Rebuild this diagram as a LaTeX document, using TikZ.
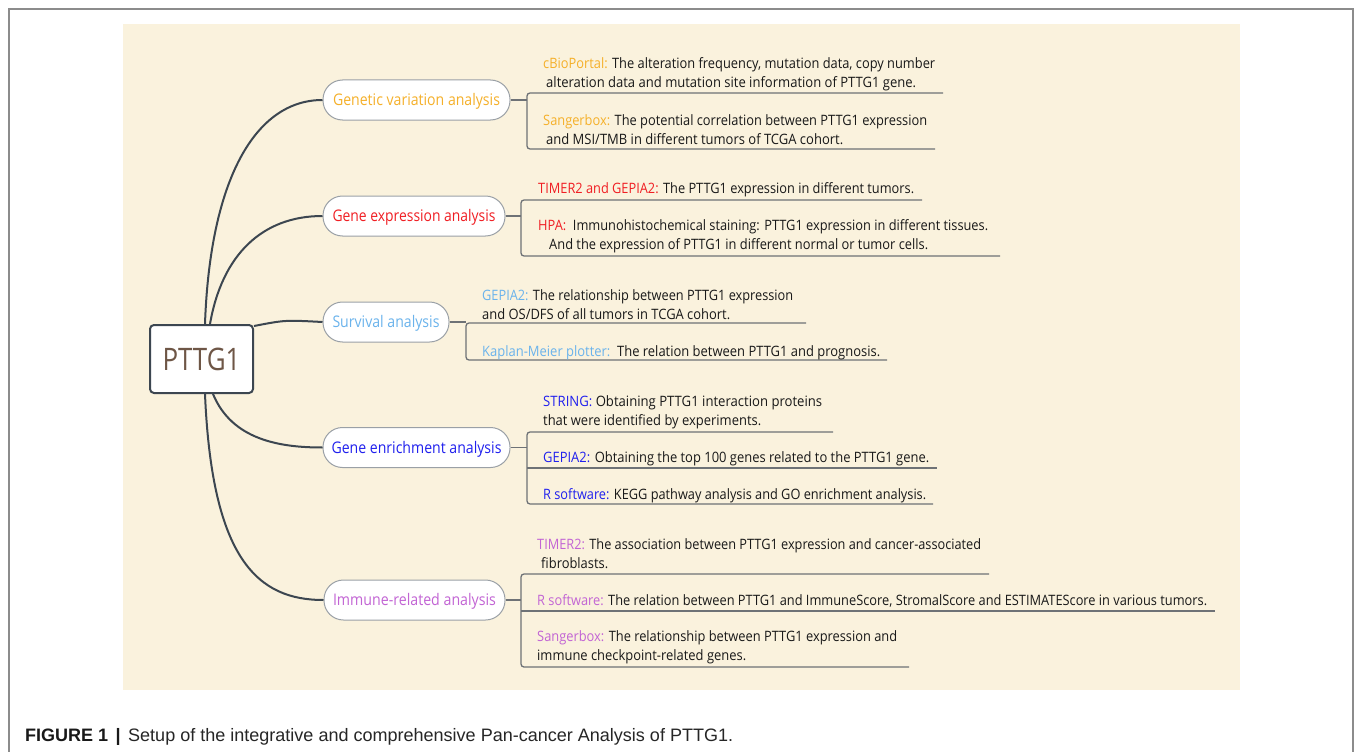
\documentclass[tikz,border=0pt]{standalone}
\usepackage{fontspec}
\setmainfont{Open Sans}
\newfontfamily\capfont{Liberation Sans}
\usepackage{graphicx}
\definecolor{orng}{HTML}{F5B02A}
\definecolor{rd}{HTML}{F01E23}
\definecolor{lblue}{HTML}{6AB3EC}
\definecolor{blu}{HTML}{2020EE}
\definecolor{purp}{HTML}{C264D4}
\definecolor{brown}{HTML}{6E5646}
\definecolor{cream}{HTML}{FAF2DD}
\definecolor{darkln}{HTML}{3C4650}
\definecolor{brln}{HTML}{6E7276}
\definecolor{pillln}{HTML}{9AA0A6}
\newlength\fitlen
\newsavebox\fitbox
\newcommand\fitto[2]{\sbox\fitbox{#2}\setlength\fitlen{\wd\fitbox}\pgfmathsetmacro\fitr{#1/\fitlen}\scalebox{\fitr}[1]{\usebox\fitbox}}
\tikzset{
  pill/.style={draw=pillln, line width=1pt, fill=white, rounded corners=19.5pt, minimum height=40pt, inner sep=0pt, text height=12.5pt, text depth=1.5pt, font=\fontsize{16}{18}\selectfont},
  dtext/.style={anchor=base west, inner sep=0pt, font=\fontsize{14.3}{16}\selectfont, text=black!90},
  conn/.style={draw=darkln, line width=2pt},
  brk/.style={draw=brln, line width=1.3pt, rounded corners=3pt},
}
\begin{document}
\begin{tikzpicture}[x=1pt,y=-1pt]
\useasboundingbox (0,0) rectangle (1355,752);
\fill[white] (0,0) rectangle (1355,752);
\draw[gray!90, line width=1.5pt] (9,760) -- (9,9) -- (1353,9) -- (1353,760);
\fill[cream] (123,24) rectangle (1240,690);

% central node
\node[draw=darkln, line width=2pt, fill=white, rounded corners=4pt, minimum width=103pt, minimum height=68pt, inner sep=0pt, text=brown, font=\fontsize{31}{34}\selectfont] (P) at (201.5,359) {\fitto{78}{PTTG1}};

% branch pills
\node[pill, minimum width=187pt] (G) at (416.5,100) {\fitto{167}{\textcolor{orng}{Genetic variation analysis}}};
\node[pill, minimum width=182pt] (E) at (414,216) {\fitto{163}{\textcolor{rd}{Gene expression analysis}}};
\node[pill, minimum width=126pt] (S) at (386,322) {\fitto{107}{\textcolor{lblue}{Survival analysis}}};
\node[pill, minimum width=187pt] (N) at (416.5,447.5) {\fitto{170}{\textcolor{blu}{Gene enrichment analysis}}};
\node[pill, minimum width=181pt] (I) at (414.5,600) {\fitto{163}{\textcolor{purp}{Immune-related analysis}}};

% connectors from central node
\draw[conn] ([xshift=3.5pt]P.north) .. controls (210,180) and (255,100) .. (G.west);
\draw[conn] ([xshift=8.5pt]P.north) .. controls (222,255) and (262,216) .. (E.west);
\draw[conn] ([yshift=-2pt]P.north east) .. controls (285,320) .. (S.west);
\draw[conn] ([xshift=11.5pt]P.south) .. controls (232,440) and (280,447.5) .. (N.west);
\draw[conn] ([xshift=3.5pt]P.south) .. controls (212,560) and (258,600) .. (I.west);

% genetic variation bracket
\coordinate (g0) at (527,100);
\draw[brk] (G.east) -- (g0);
\draw[brk] (943,93) -- (527,93) -- (527,149) -- (935,149);
% gene expression bracket
\coordinate (e0) at (521,216);
\draw[brk] (E.east) -- (e0);
\draw[brk] (922,200) -- (521,200) -- (521,256) -- (1000,256);
% survival bracket
\coordinate (s0) at (466,322);
\draw[brk] (S.east) -- (s0);
\draw[brk] (806,323) -- (466,323) -- (466,360) -- (887,360);
% enrichment bracket
\coordinate (n0) at (527,447.5);
\draw[brk] (N.east) -- (n0);
\draw[brk] (833,432) -- (527,432) -- (527,504) -- (933,504);
\draw[brk] (527,468) -- (937,468);
% immune bracket
\coordinate (i0) at (521,600);
\draw[brk] (I.east) -- (i0);
\draw[brk] (989,574) -- (521,574) -- (521,667) -- (909,667);
\draw[brk] (521,611) -- (1215,611);

% texts: genetic
\node[dtext] (g1) at (543,69) {\fitto{392}{\textcolor{orng}{cBioPortal:} The alteration frequency, mutation data, copy number}};
\node[dtext] (g2) at (546,88) {\fitto{370}{alteration data and mutation site information of PTTG1 gene.}};
\node[dtext] (g3) at (543,125) {\fitto{384}{\textcolor{orng}{Sangerbox:} The potential correlation between PTTG1 expression}};
\node[dtext] (g4) at (546,144) {\fitto{297}{and MSI/TMB in different tumors of TCGA cohort.}};
% texts: expression
\node[dtext] (e1) at (538,193) {\fitto{376}{\textcolor{rd}{TIMER2 and GEPIA2:} The PTTG1 expression in different tumors.}};
\node[dtext] (e2) at (538,230) {\fitto{450}{\textcolor{rd}{HPA:}\ \ Immunohistochemical staining: PTTG1 expression in different tissues.}};
\node[dtext] (e3) at (549,249) {\fitto{379}{And the expression of PTTG1 in different normal or tumor cells.}};
% texts: survival
\node[dtext] (s1) at (482,300) {\fitto{311}{\textcolor{lblue}{GEPIA2:} The relationship between PTTG1 expression}};
\node[dtext] (s2) at (482,319) {\fitto{248}{and OS/DFS of all tumors in TCGA cohort.}};
\node[dtext] (s3) at (482,356) {\fitto{398}{\textcolor{lblue}{Kaplan-Meier plotter:}\ \ The relation between PTTG1 and prognosis.}};
% texts: enrichment
\node[dtext] (n1) at (543,406) {\fitto{279}{\textcolor{blu}{STRING:} Obtaining PTTG1 interaction proteins}};
\node[dtext] (n2) at (543,425) {\fitto{218}{that were identified by experiments.}};
\node[dtext] (n3) at (543,462) {\fitto{386}{\textcolor{blu}{GEPIA2:} Obtaining the top 100 genes related to the PTTG1 gene.}};
\node[dtext] (n4) at (543,499) {\fitto{383}{\textcolor{blu}{R software:} KEGG pathway analysis and GO enrichment analysis.}};
% texts: immune
\node[dtext] (i1) at (537,549) {\fitto{444}{\textcolor{purp}{TIMER2:} The association between PTTG1 expression and cancer-associated}};
\node[dtext] (i2) at (541,568) {\fitto{67}{fibroblasts.}};
\node[dtext] (i3) at (537,605) {\fitto{670}{\textcolor{purp}{R software:} The relation between PTTG1 and ImmuneScore, StromalScore and ESTIMATEScore in various tumors.}};
\node[dtext] (i4) at (537,641) {\fitto{360}{\textcolor{purp}{Sangerbox:} The relationship between PTTG1 expression and}};
\node[dtext] (i5) at (537,660) {\fitto{209}{immune checkpoint-related genes.}};

% caption
\node[anchor=base west, inner sep=0pt, font=\capfont\bfseries\fontsize{18}{20}\selectfont, text=black!90] (c1) at (25,741) {\fitto{83}{FIGURE 1}};
\node[anchor=base west, inner sep=0pt, font=\capfont\bfseries\fontsize{18}{20}\selectfont, text=black!90] (c2) at (115.5,741) {|};
\node[anchor=base west, inner sep=0pt, font=\capfont\fontsize{18}{20}\selectfont, text=black!85] (c3) at (128,741) {\fitto{605}{Setup of the integrative and comprehensive Pan-cancer Analysis of PTTG1.}};
\end{tikzpicture}
\end{document}
